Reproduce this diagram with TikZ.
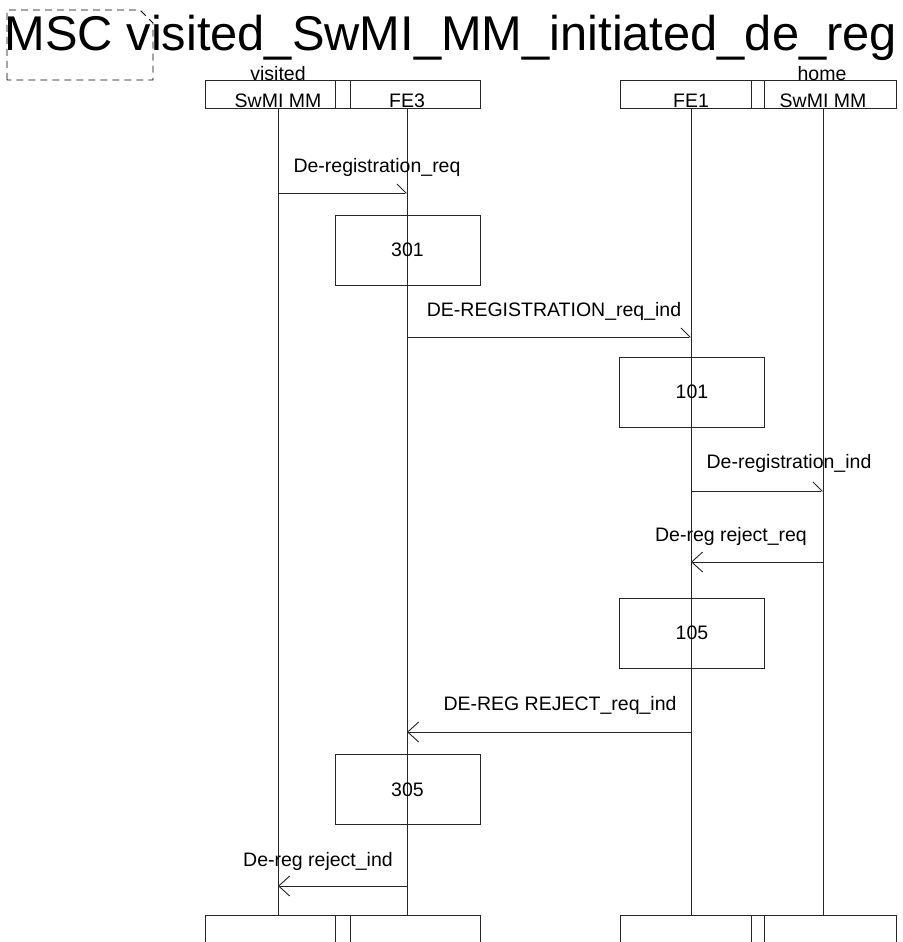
\documentclass[tikz,border=0pt]{standalone}
\usepackage{fontspec}
\setmainfont{Liberation Sans}
\usetikzlibrary{arrows.meta}

\newcommand{\msgfont}{\fontsize{19.5}{23}\selectfont}

\tikzset{
    line/.style={draw=black!85, line width=0.9pt},
    headbox/.style={line, rectangle, minimum height=28pt, inner sep=0pt},
    actionbox/.style={line, rectangle, minimum width=145pt, minimum height=70pt, inner sep=0pt, font=\msgfont},
    msglabel/.style={anchor=base, inner sep=0pt, font=\msgfont},
    msgR/.style={line, -{Straight Barb[left, length=9pt, width=18pt]}},
    msgL/.style={line, -{Straight Barb[length=11pt, width=20pt]}},
    lifeline/.style={line}
}

\begin{document}
\begin{tikzpicture}[x=1pt, y=-1pt]
\useasboundingbox (0,0) rectangle (902,942);

% ===== Title =====
\node[anchor=base west, inner sep=0pt, font=\fontsize{48.8}{58}\selectfont] (title) at (4.5,51) {MSC visited\_SwMI\_MM\_initiated\_de\_reg};
\draw[line, draw=black, dash pattern=on 7pt off 5pt] (7,80) -- (7,10) -- (140,10) -- (153,23) -- (153,80) -- cycle;

% ===== Instance heads =====
\node[headbox, minimum width=275pt] (headL) at (342.5,94) {};
\node[headbox, minimum width=15pt]  (headLsep) at (342.5,94) {};
\node[headbox, minimum width=276pt] (headR) at (758,94) {};
\node[headbox, minimum width=13pt]  (headRsep) at (757.5,94) {};

\node[msglabel] (visited) at (278,81) {visited};
\node[msglabel] (svName)  at (278,107) {SwMI MM};
\node[msglabel] (fe3Name) at (407,107) {FE3};
\node[msglabel] (fe1Name) at (691,107) {FE1};
\node[msglabel] (home)    at (822,81) {home};
\node[msglabel] (hmName)  at (823,107) {SwMI MM};

% ===== Instance ends =====
\node[headbox, minimum width=275pt] (footL) at (342.5,929) {};
\node[headbox, minimum width=15pt]  (footLsep) at (342.5,929) {};
\node[headbox, minimum width=276pt] (footR) at (758,929) {};
\node[headbox, minimum width=13pt]  (footRsep) at (757.5,929) {};

% ===== Lifelines =====
\coordinate (sv)  at (278,108);
\coordinate (fe3) at (407,108);
\coordinate (fe1) at (691,108);
\coordinate (hm)  at (823,108);
\draw[lifeline] (sv)  -- (sv |- footL.north);
\draw[lifeline] (fe3) -- (fe3 |- footL.north);
\draw[lifeline] (fe1) -- (fe1 |- footR.north);
\draw[lifeline] (hm)  -- (hm |- footR.north);

% ===== Messages and actions =====
\node[msglabel] (l1) at (377,172) {De-registration\_req};
\draw[msgR] (sv |- 0,193) -- (fe3 |- 0,193);

\node[actionbox] (t301) at (407.5,250) {301};

\node[msglabel] (l2) at (554,316) {DE-REGISTRATION\_req\_ind};
\draw[msgR] (fe3 |- 0,337) -- (fe1 |- 0,337);

\node[actionbox] (t101) at (692,392) {101};

\node[msglabel] (l3) at (789,468) {De-registration\_ind};
\draw[msgR] (fe1 |- 0,491) -- (hm |- 0,491);

\node[msglabel] (l4) at (731,541) {De-reg reject\_req};
\draw[msgL] (hm |- 0,562) -- (fe1 |- 0,562);

\node[actionbox] (t105) at (692,633) {105};

\node[msglabel] (l5) at (560,710) {DE-REG REJECT\_req\_ind};
\draw[msgL] (fe1 |- 0,732) -- (fe3 |- 0,732);

\node[actionbox] (t305) at (407.5,789.5) {305};

\node[msglabel] (l6) at (318,866) {De-reg reject\_ind};
\draw[msgL] (fe3 |- 0,886) -- (sv |- 0,886);

\end{tikzpicture}
\end{document}
